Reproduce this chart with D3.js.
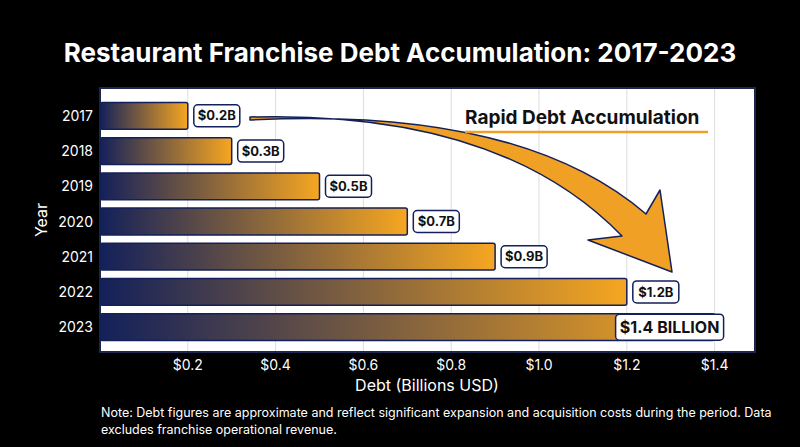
<!DOCTYPE html>
<html><head><meta charset="utf-8">
<script src="https://cdn.jsdelivr.net/npm/d3@7"></script>
<style>body{margin:0;background:#000}text{font-family:Inter,"Noto Sans",sans-serif}</style>
</head><body><svg id="c" width="800" height="447"></svg>
<script>
const years = ["2017","2018","2019","2020","2021","2022","2023"];
const debt = [0.2, 0.3, 0.5, 0.7, 0.9, 1.2, 1.4];
const labels = ["$0.2B","$0.3B","$0.5B","$0.7B","$0.9B","$1.2B","$1.4 BILLION"];
const ticks = [0.2, 0.4, 0.6, 0.8, 1.0, 1.2, 1.4];

const svg = d3.select("#c");
const L = 100, R = 755, T = 88, B = 352;
const x = d3.scaleLinear().domain([0, 1.492]).range([L, R]);
const y = d3.scaleBand().domain(years).range([T + 13, B - 10]).paddingInner(0.24).paddingOuter(0.04);

const defs = svg.append("defs");
const g = defs.append("linearGradient").attr("id", "bar");
g.append("stop").attr("offset", "0%").attr("stop-color", "#13205a");
g.append("stop").attr("offset", "100%").attr("stop-color", "#f6a621");

svg.append("text").attr("x", 400).attr("y", 62).attr("text-anchor", "middle")
  .attr("fill", "#fff").attr("font-size", 26).attr("font-weight", 700)
  .text("Restaurant Franchise Debt Accumulation: 2017-2023");

svg.append("rect").attr("x", L).attr("y", T).attr("width", R - L).attr("height", B - T)
  .attr("fill", "#fff").attr("stroke", "#1b2550").attr("stroke-width", 2);

svg.selectAll(".grid").data(ticks).enter().append("line")
  .attr("x1", d => x(d)).attr("x2", d => x(d)).attr("y1", T + 1).attr("y2", B - 1)
  .attr("stroke", "#ddd").attr("stroke-width", 1);

svg.selectAll(".bar").data(debt).enter().append("rect")
  .attr("x", x(0)).attr("y", (d, i) => y(years[i]))
  .attr("width", d => x(d) - x(0)).attr("height", y.bandwidth())
  .attr("rx", 2).attr("fill", "url(#bar)").attr("stroke", "#13205a").attr("stroke-width", 1.5);

// annotation arrow
const p = d3.path();
p.moveTo(250, 117);
p.quadraticCurveTo(500, 110, 622, 236);
p.lineTo(588, 240);
p.lineTo(672, 272);
p.lineTo(660, 190);
p.lineTo(646, 214);
p.quadraticCurveTo(520, 106, 250, 120);
p.closePath();
svg.append("path").attr("d", p.toString()).attr("fill", "#f0a024")
  .attr("stroke", "#13205a").attr("stroke-width", 1.5).attr("stroke-linejoin", "round");

// value labels
debt.forEach((d, i) => {
  const last = i === debt.length - 1;
  const fs = last ? 16 : 13;
  const w = last ? 108 : labels[i].length * 8 + 6;
  const h = last ? 26 : 22;
  const bx = last ? x(d) - 99 : x(d) + 6;
  const cy = y(years[i]) + y.bandwidth() / 2;
  svg.append("rect").attr("x", bx).attr("y", cy - h / 2).attr("width", w).attr("height", h)
    .attr("rx", 4).attr("fill", "#fff").attr("stroke", "#13205a").attr("stroke-width", 1.5);
  svg.append("text").attr("x", bx + w / 2).attr("y", cy + fs * 0.36).attr("text-anchor", "middle")
    .attr("font-size", fs).attr("font-weight", 700).attr("fill", "#111").text(labels[i]);
});

// y labels
svg.selectAll(".yl").data(years).enter().append("text")
  .attr("x", L - 7).attr("y", d => y(d) + y.bandwidth() / 2 + 5).attr("text-anchor", "end")
  .attr("fill", "#fff").attr("font-size", 14).text(d => d);
svg.append("text").attr("transform", `translate(47,220) rotate(-90)`).attr("text-anchor", "middle")
  .attr("fill", "#fff").attr("font-size", 16).text("Year");

// x ticks
svg.selectAll(".xl").data(ticks).enter().append("text")
  .attr("x", d => x(d)).attr("y", B + 18).attr("text-anchor", "middle")
  .attr("fill", "#fff").attr("font-size", 14).text(d => "$" + (d === 1 ? "1.0" : d));
svg.append("text").attr("x", 427).attr("y", 391).attr("text-anchor", "middle")
  .attr("fill", "#fff").attr("font-size", 16).text("Debt (Billions USD)");

svg.append("text").attr("x", 101).attr("y", 417).attr("fill", "#fff").attr("font-size", 12.5)
  .text("Note: Debt figures are approximate and reflect significant expansion and acquisition costs during the period. Data");
svg.append("text").attr("x", 101).attr("y", 434).attr("fill", "#fff").attr("font-size", 12.5)
  .text("excludes franchise operational revenue.");

svg.append("text").attr("x", 465).attr("y", 124).attr("font-size", 19).attr("font-weight", 700)
  .attr("fill", "#111").text("Rapid Debt Accumulation");
svg.append("line").attr("x1", 465).attr("x2", 708).attr("y1", 132).attr("y2", 132)
  .attr("stroke", "#f0a024").attr("stroke-width", 2.5);
</script></body></html>
